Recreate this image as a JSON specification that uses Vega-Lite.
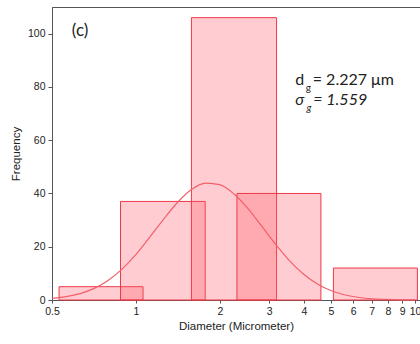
{
  "$schema": "https://vega.github.io/schema/vega-lite/v6.json",
  "width": 368,
  "height": 293,
  "autosize": {"type": "none"},
  "padding": {"left": 52, "top": 7, "right": 0, "bottom": 44},
  "background": "white",
  "config": {
    "view": {"stroke": "#555", "strokeWidth": 1},
    "axis": {"labelFont": "Liberation Sans", "titleFont": "Liberation Sans", "labelColor": "#222", "titleColor": "#222", "domainColor": "#555", "tickColor": "#555", "grid": false, "titleFontWeight": "normal", "labelFontSize": 10.5, "titleFontSize": 11.5}
  },
  "datasets": {
    "bars": [
      {"lo": 0.53, "hi": 1.06, "n": 5},
      {"lo": 0.88, "hi": 1.77, "n": 37},
      {"lo": 1.58, "hi": 3.19, "n": 106},
      {"lo": 2.3, "hi": 4.6, "n": 40},
      {"lo": 5.1, "hi": 10.2, "n": 12}
    ],
    "fit": [
      {"d": 0.501, "f": 0.61}, {"d": 0.562, "f": 1.25}, {"d": 0.631, "f": 2.42}, {"d": 0.708, "f": 4.36},
      {"d": 0.794, "f": 7.36}, {"d": 0.891, "f": 11.6}, {"d": 1.0, "f": 17.1}, {"d": 1.122, "f": 23.7},
      {"d": 1.259, "f": 30.5}, {"d": 1.413, "f": 36.8}, {"d": 1.585, "f": 41.6}, {"d": 1.778, "f": 43.9},
      {"d": 1.995, "f": 43.3}, {"d": 2.239, "f": 39.9}, {"d": 2.512, "f": 34.5}, {"d": 2.818, "f": 27.8},
      {"d": 3.162, "f": 21.0}, {"d": 3.548, "f": 14.8}, {"d": 3.981, "f": 9.76}, {"d": 4.467, "f": 6.0},
      {"d": 5.012, "f": 3.47}, {"d": 5.623, "f": 1.87}, {"d": 6.31, "f": 0.94}, {"d": 7.079, "f": 0.45},
      {"d": 7.943, "f": 0.2}, {"d": 8.913, "f": 0.08}, {"d": 10.0, "f": 0.03}
    ]
  },
  "layer": [
    {
      "data": {"name": "bars"},
      "mark": {"type": "rect", "fill": "#ff5a68", "fillOpacity": 0.3, "stroke": "#ee3a48", "strokeWidth": 1},
      "encoding": {
        "x": {"field": "lo", "type": "quantitative", "scale": {"type": "log", "domain": [0.5, 10.42], "nice": false},
          "axis": {"title": "Diameter (Micrometer)", "values": [0.5, 1, 2, 3, 4, 5, 6, 7, 8, 9, 10], "format": "~g", "tickSize": 3, "labelPadding": 3, "titlePadding": 4, "labelFlush": false, "labelOverlap": false}},
        "x2": {"field": "hi"},
        "y": {"field": "n", "type": "quantitative", "scale": {"domain": [0, 110], "nice": false},
          "axis": {"title": "Frequency", "values": [0, 10, 20, 30, 40, 50, 60, 70, 80, 90, 100],
            "labelExpr": "datum.value % 20 === 0 ? datum.label : ''",
            "tickSize": {"condition": {"test": "datum.value % 20 === 0", "value": 4}, "value": 2},
            "labelPadding": 3, "titlePadding": 6}},
        "y2": {"datum": 0}
      }
    },
    {
      "data": {"name": "fit"},
      "mark": {"type": "line", "stroke": "#f2606c", "strokeWidth": 1.2, "interpolate": "monotone"},
      "encoding": {
        "x": {"field": "d", "type": "quantitative"},
        "y": {"field": "f", "type": "quantitative"}
      }
    },
    {
      "data": {"values": [{}]},
      "mark": {"type": "text", "text": "(c)", "font": "Lato", "fontSize": 17, "align": "left", "baseline": "alphabetic", "color": "#222"},
      "encoding": {"x": {"datum": 0.589}, "y": {"datum": 99.2}}
    },
    {
      "data": {"values": [{}]},
      "mark": {"type": "text", "text": "d", "font": "Lato", "fontSize": 16, "align": "left", "baseline": "alphabetic", "color": "#222"},
      "encoding": {"x": {"datum": 3.72}, "y": {"datum": 80.8}}
    },
    {
      "data": {"values": [{}]},
      "mark": {"type": "text", "text": "g", "font": "Lato", "fontSize": 10, "align": "left", "baseline": "alphabetic", "color": "#222"},
      "encoding": {"x": {"datum": 4.06}, "y": {"datum": 78.6}}
    },
    {
      "data": {"values": [{}]},
      "mark": {"type": "text", "text": "= 2.227 μm", "font": "Lato", "fontSize": 16, "align": "left", "baseline": "alphabetic", "color": "#222"},
      "encoding": {"x": {"datum": 4.3}, "y": {"datum": 80.8}}
    },
    {
      "data": {"values": [{}]},
      "mark": {"type": "text", "text": "σ", "font": "Lato", "fontSize": 16, "fontStyle": "italic", "align": "left", "baseline": "alphabetic", "color": "#222"},
      "encoding": {"x": {"datum": 3.72}, "y": {"datum": 73.3}}
    },
    {
      "data": {"values": [{}]},
      "mark": {"type": "text", "text": "g", "font": "Lato", "fontSize": 10, "fontStyle": "italic", "align": "left", "baseline": "alphabetic", "color": "#222"},
      "encoding": {"x": {"datum": 4.08}, "y": {"datum": 70.8}}
    },
    {
      "data": {"values": [{}]},
      "mark": {"type": "text", "text": "= 1.559", "font": "Lato", "fontSize": 16, "fontStyle": "italic", "align": "left", "baseline": "alphabetic", "color": "#222"},
      "encoding": {"x": {"datum": 4.32}, "y": {"datum": 73.3}}
    }
  ]
}
